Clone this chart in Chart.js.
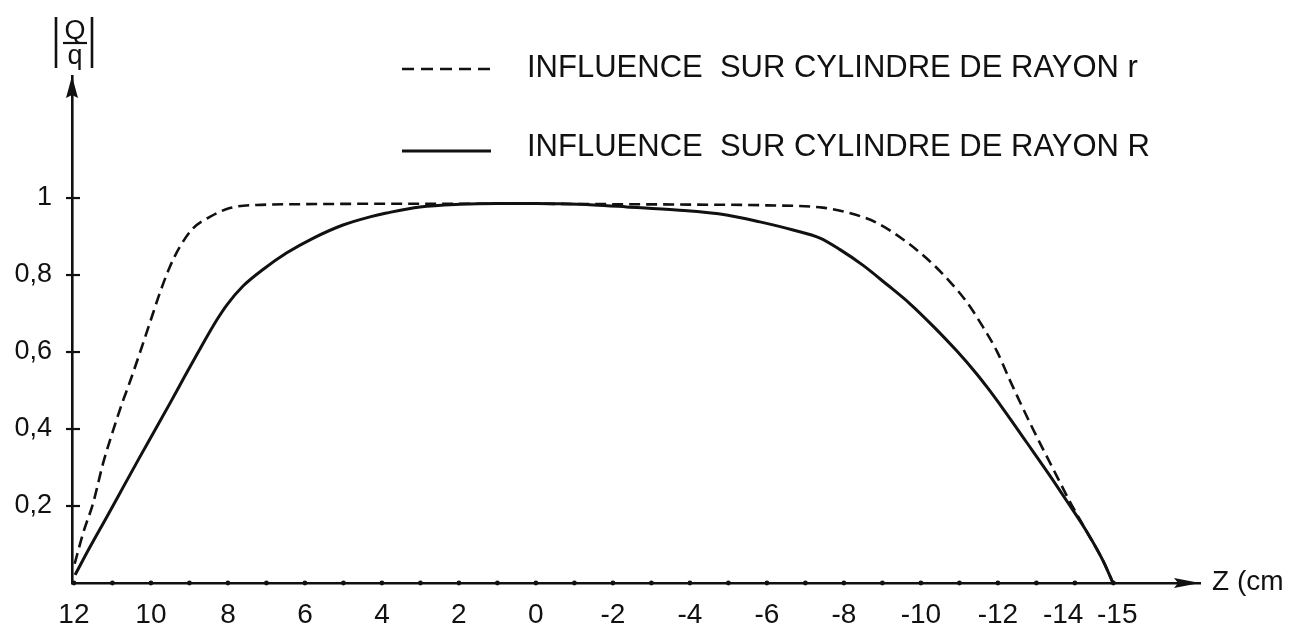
<!DOCTYPE html>
<html><head><meta charset="utf-8">
<style>html,body{margin:0;padding:0;background:#fff;}#wrap{width:1302px;height:634px;}canvas{display:block;}</style>
<script src="https://cdn.jsdelivr.net/npm/chart.js@4.4.1/dist/chart.umd.min.js"></script>
</head><body><div id="wrap"><canvas id="c" width="1302" height="634"></canvas></div>
<script>
// Series: |Q/q| versus Z (cm)
const seriesNames = ['INFLUENCE  SUR CYLINDRE DE RAYON r', 'INFLUENCE  SUR CYLINDRE DE RAYON R'];
const zSmallR = [11.98, 11.76, 11.50, 11.24, 10.98, 10.72, 10.59, 10.29, 10.03, 9.77, 9.51, 9.25, 8.90, 8.47, 7.95, 7.25, 6.05, 4.39, 2, 0, -2, -4, -6, -7.45, -8.07, -8.42, -8.85, -9.53, -10.23, -10.75, -11.19, -11.62, -11.97, -12.31, -12.57, -12.91, -13.35, -13.61, -13.85, -14.31, -14.73, -14.99];
const qSmallR = [0.05, 0.130, 0.208, 0.312, 0.397, 0.475, 0.510, 0.597, 0.675, 0.753, 0.821, 0.873, 0.922, 0.951, 0.974, 0.982, 0.984, 0.985, 0.985, 0.985, 0.984, 0.983, 0.981, 0.975, 0.963, 0.953, 0.936, 0.893, 0.836, 0.783, 0.730, 0.664, 0.603, 0.527, 0.471, 0.400, 0.313, 0.262, 0.215, 0.133, 0.058, 0.0];
const zLargeR = [11.97, 11.58, 11.15, 10.72, 10.29, 9.85, 9.51, 9.16, 8.81, 8.29, 8.03, 7.60, 7.08, 6.48, 5.78, 5.01, 4.31, 3.88, 3.01, 1.97, 1.0, 0, -0.62, -1.5, -2.36, -3.65, -4.95, -5.82, -6.68, -7.38, -7.90, -8.50, -9.11, -9.71, -10.31, -10.93, -11.45, -11.74, -12.13, -12.75, -13.35, -13.79, -14.31, -14.73, -14.99];
const qLargeR = [0.021, 0.094, 0.171, 0.249, 0.327, 0.405, 0.466, 0.530, 0.593, 0.683, 0.722, 0.772, 0.815, 0.857, 0.896, 0.930, 0.951, 0.961, 0.977, 0.984, 0.986, 0.986, 0.985, 0.982, 0.977, 0.969, 0.956, 0.938, 0.917, 0.896, 0.866, 0.825, 0.776, 0.726, 0.668, 0.603, 0.543, 0.506, 0.453, 0.365, 0.279, 0.213, 0.133, 0.058, 0.0];
const xTickValues = [12,11,10,9,8,7,6,5,4,3,2,1,0,-1,-2,-3,-4,-5,-6,-7,-8,-9,-10,-11,-12,-13,-14,-15];
const xTickLabels = {12: '12', 10: '10', 8: '8', 6: '6', 4: '4', 2: '2', 0: '0', '-2': '-2', '-4': '-4', '-6': '-6', '-8': '-8', '-10': '-10', '-12': '-12', '-14': '-14   ', '-15': ' -15'};
const yTickValues = [0.2, 0.4, 0.6, 0.8, 1];
const yTickLabels = ['0,2', '0,4', '0,6', '0,8', '1'];
const xAxisTitle = 'Z (cm';
const yTitleNum = 'Q', yTitleDen = 'q';

const INK = '#111';
const FONT = "'Liberation Sans', Arial, sans-serif";
const toPts = (xs, ys) => xs.map((x, i) => ({x: x, y: ys[i]}));

const overlay = {
  id: 'overlay',
  afterDraw(chart) {
    const ctx = chart.ctx, a = chart.chartArea;
    const xs = chart.scales.x, ys = chart.scales.y;
    const x0 = a.left, y0 = a.bottom;
    ctx.save();
    ctx.fillStyle = INK; ctx.strokeStyle = INK;
    // y tick marks crossing the axis
    ctx.lineWidth = 2.2;
    yTickValues.forEach(v => {
      const py = ys.getPixelForValue(v);
      ctx.beginPath(); ctx.moveTo(x0 - 6, py); ctx.lineTo(x0 + 8, py); ctx.stroke();
    });
    // x tick dots
    xTickValues.forEach(v => {
      const px = xs.getPixelForValue(v);
      ctx.beginPath(); ctx.arc(px, y0, 2.4, 0, Math.PI * 2); ctx.fill();
    });
    // arrowheads
    ctx.beginPath(); ctx.moveTo(x0, a.top); ctx.lineTo(x0 - 6, a.top + 22); ctx.lineTo(x0, a.top + 19); ctx.lineTo(x0 + 6, a.top + 22); ctx.closePath(); ctx.fill();
    ctx.beginPath(); ctx.moveTo(a.right, y0); ctx.lineTo(a.right - 26, y0 - 5); ctx.lineTo(a.right - 22, y0); ctx.lineTo(a.right - 26, y0 + 5); ctx.closePath(); ctx.fill();
    // y-axis title |Q/q|
    ctx.font = '27px ' + FONT; ctx.textAlign = 'center'; ctx.textBaseline = 'alphabetic';
    ctx.fillText(yTitleNum, 75, 39);
    ctx.fillText(yTitleDen, 75, 64);
    ctx.lineWidth = 2.2;
    ctx.beginPath(); ctx.moveTo(63, 43); ctx.lineTo(87, 43); ctx.stroke();
    ctx.lineWidth = 2.6;
    ctx.beginPath(); ctx.moveTo(56, 17); ctx.lineTo(56, 68); ctx.moveTo(92, 17); ctx.lineTo(92, 68); ctx.stroke();
    // x-axis title (cut at the page edge like the scan)
    ctx.save();
    ctx.beginPath(); ctx.rect(0, 0, 1285, 634); ctx.clip();
    ctx.font = '28px ' + FONT; ctx.textAlign = 'left'; ctx.textBaseline = 'middle';
    ctx.fillText(xAxisTitle, 1212, y0 - 1);
    ctx.restore();
    // legend
    const rows = [{y: 68, ly: 69, ds: chart.data.datasets[0]}, {y: 147, ly: 151, ds: chart.data.datasets[1]}];
    rows.forEach(r => {
      ctx.save();
      ctx.lineWidth = r.ds.borderWidth;
      ctx.setLineDash(r.ds.borderDash ? [12, 7] : []);
      ctx.beginPath(); ctx.moveTo(402, r.ly); ctx.lineTo(491, r.ly); ctx.stroke();
      ctx.restore();
      ctx.font = '31px ' + FONT; ctx.textAlign = 'left'; ctx.textBaseline = 'middle';
      ctx.fillText(r.ds.label, 527, r.y);
    });
    ctx.restore();
  }
};

new Chart(document.getElementById('c'), {
  type: 'line',
  data: {
    datasets: [
      {label: seriesNames[0], data: toPts(zSmallR, qSmallR), borderColor: INK, borderWidth: 2.6, borderDash: [11, 6],
       pointRadius: 0, fill: false, cubicInterpolationMode: 'monotone'},
      {label: seriesNames[1], data: toPts(zLargeR, qLargeR), borderColor: INK, borderWidth: 3,
       pointRadius: 0, fill: false, cubicInterpolationMode: 'monotone'}
    ]
  },
  options: {
    responsive: false, animation: false, devicePixelRatio: 1,
    layout: {padding: {top: 76, right: 102, left: 0, bottom: 0}},
    plugins: {legend: {display: false}, tooltip: {enabled: false}},
    scales: {
      x: {
        type: 'linear', reverse: true, min: -17.25, max: 12.05,
        afterBuildTicks: s => { s.ticks = xTickValues.map(v => ({value: v})); },
        afterFit: s => { s.height = 51; },
        grid: {display: false, drawTicks: false},
        border: {display: true, color: INK, width: 2.6},
        ticks: {autoSkip: false, maxRotation: 0, padding: 15, color: INK,
          font: {family: FONT, size: 28},
          callback: v => xTickLabels[String(v)] || ''}
      },
      y: {
        type: 'linear', min: 0, max: 1.317,
        afterBuildTicks: s => { s.ticks = yTickValues.map(v => ({value: v})); },
        afterFit: s => { s.width = 72; },
        grid: {display: false, drawTicks: false},
        border: {display: true, color: INK, width: 2.6},
        ticks: {padding: 20, color: INK, font: {family: FONT, size: 27},
          callback: v => { const i = yTickValues.indexOf(v); return i >= 0 ? yTickLabels[i] : ''; }}
      }
    }
  },
  plugins: [overlay]
});
</script>
</body></html>
